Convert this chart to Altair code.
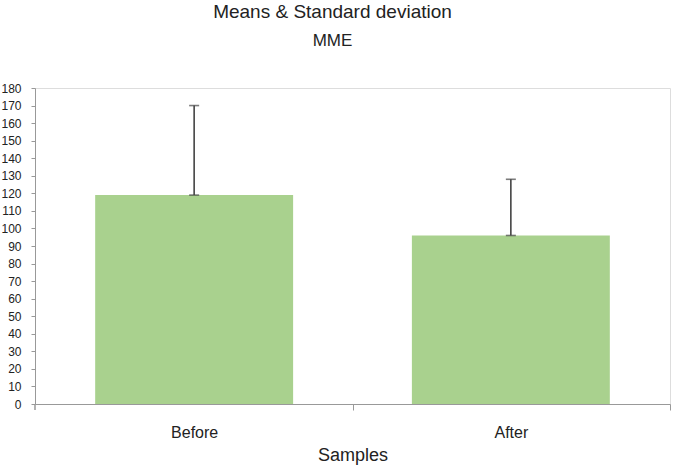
import altair as alt
import pandas as pd

categories = ["Before", "After"]
means = [119, 96]
sds = [51, 32]

df = pd.DataFrame({"Sample": categories, "Mean": means, "SD": sds})
df["Upper"] = df["Mean"] + df["SD"]

FONT = "Liberation Sans"
STEP_HALF = 635 / 4  # half of a category step, used to shift ticks to band boundaries

x_axis = alt.Axis(
    labelAngle=0,
    labelFontSize=16,
    labelColor="#222222",
    labelFont=FONT,
    labelPadding=14,
    tickOffset=STEP_HALF,
    labelOffset=-STEP_HALF,
    tickSize=6,
    tickColor="#999999",
    domainColor="#999999",
    titleFontSize=18,
    titleFont=FONT,
    titleFontWeight="normal",
    titleColor="#222222",
    titlePadding=6,
)
x_scale = alt.Scale(paddingInner=0.375, paddingOuter=0.19)


def X():
    return alt.X("Sample:N", sort=categories, title="Samples", scale=x_scale, axis=x_axis)


y_scale = alt.Scale(domain=[0, 180])
y_axis = alt.Axis(
    values=list(range(0, 181, 10)),
    labelOverlap=False,
    grid=False,
    labelFontSize=12,
    labelFont=FONT,
    labelColor="#222222",
    tickSize=4,
    tickColor="#999999",
    domainColor="#999999",
    labelPadding=10,
    title=None,
)


def Y(field):
    return alt.Y(field, type="quantitative", scale=y_scale, axis=y_axis, title=None)


bars = alt.Chart(df).mark_bar(color="#A9D18E").encode(x=X(), y=Y("Mean"))

rule = alt.Chart(df).mark_rule(color="#444444", strokeWidth=1.6).encode(
    x=X(), y=Y("Mean"), y2="Upper:Q"
)

cap_top = alt.Chart(df).mark_tick(color="#444444", size=10, thickness=1.6).encode(
    x=X(), y=Y("Upper")
)
cap_bot = alt.Chart(df).mark_tick(color="#444444", size=10, thickness=1.6).encode(
    x=X(), y=Y("Mean")
)

# first category-boundary tick at the left edge of the x axis
left_tick = alt.Chart(df).mark_rule(color="#999999", strokeWidth=1).encode(
    x=alt.value(0), y=alt.value(316), y2=alt.value(322)
)

chart = (
    alt.layer(bars, rule, cap_top, cap_bot, left_tick)
    .properties(
        width=635,
        height=316,
        autosize=alt.AutoSizeParams(type="none"),
        padding={"left": 35, "top": 88, "right": 6, "bottom": 65},
        title=alt.TitleParams(
            text="Means & Standard deviation",
            subtitle="MME",
            font=FONT,
            fontSize=19,
            fontWeight="normal",
            color="#222222",
            subtitleFont=FONT,
            subtitleFontSize=17,
            subtitleColor="#222222",
            subtitlePadding=11,
            anchor="middle",
            dx=-20,
            offset=33,
        ),
    )
    .configure_view(stroke="#c8c8c8", strokeWidth=1)
    .configure(background="white")
)

chart.save("out.html", embed_options={"renderer": "svg", "actions": False})
